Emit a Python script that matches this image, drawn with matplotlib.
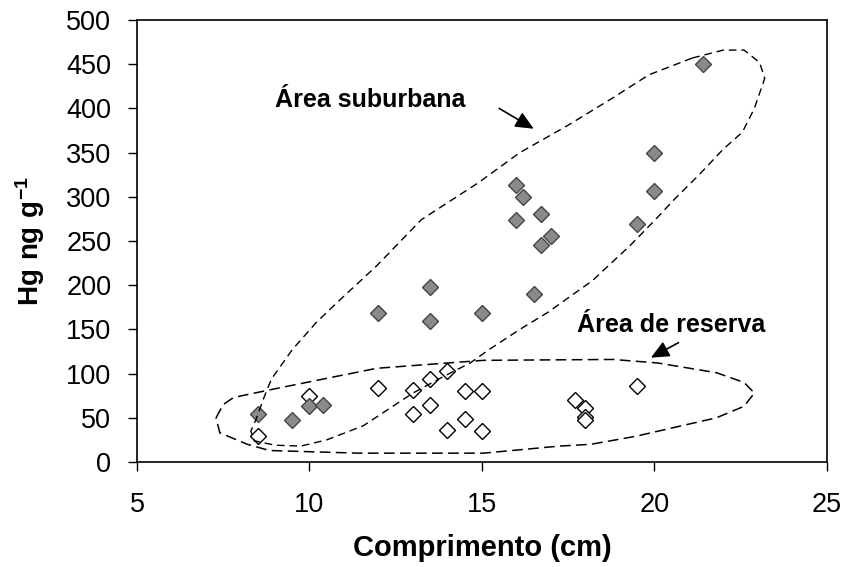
import matplotlib
matplotlib.use("Agg")
import matplotlib.pyplot as plt

plt.rcParams['font.family'] = ['Liberation Sans', 'DejaVu Sans']
plt.rcParams['mathtext.fontset'] = 'custom'
plt.rcParams['mathtext.bf'] = 'Liberation Sans:bold'
plt.rcParams['mathtext.rm'] = 'Liberation Sans'

# área suburbana (losangos cinza)
sub_comp = [21.4, 20, 20, 16, 16.2, 16, 16.7, 17, 16.7, 19.5, 13.5, 16.5, 12, 13.5, 15, 8.5, 9.5, 10, 10.4]
sub_hg = [450, 349, 307, 313, 300, 274, 280, 256, 245, 269, 198, 190, 169, 159, 169, 54, 47, 63, 64]

# área de reserva (losangos brancos)
res_comp = [8.5, 10, 12, 13, 13, 13.5, 13.5, 14, 14, 14.5, 14.5, 15, 15, 17.7, 18, 18, 18, 19.5]
res_hg = [29, 75, 84, 82, 54, 94, 64, 103, 36, 80, 49, 80, 35, 70, 61, 51, 47, 86]

x_ticks = [5, 10, 15, 20, 25]
y_ticks = list(range(0, 501, 50))

# contornos desenhados a mao (coordenadas dos dados)
sub_outline = [(21.1, 457), (22.0, 466), (22.6, 466), (23.05, 452), (23.2, 434),
               (22.9, 400), (22.55, 373), (22.0, 354), (21.3, 325), (20.6, 298),
               (20.0, 273), (19.3, 245), (18.2, 205), (16.9, 169), (16.1, 150),
               (15.2, 127), (14.66, 112), (13.9, 97), (13.0, 78), (11.56, 41),
               (10.5, 25), (9.75, 18), (9.0, 19), (8.4, 24), (8.3, 35), (8.45, 48),
               (8.7, 75), (8.9, 94), (9.5, 127), (10.2, 158), (10.9, 184),
               (11.95, 222), (13.24, 274), (14.9, 316), (16.1, 350), (17.5, 381),
               (18.8, 412), (19.84, 438), (21.1, 457)]
res_outline = [(7.29, 50), (7.5, 65), (7.8, 73), (8.9, 82), (10.8, 97), (11.95, 106),
               (14.0, 112), (15.05, 115), (18.8, 116), (20.1, 112), (21.8, 101),
               (22.6, 90), (22.9, 78), (22.6, 63), (21.8, 50), (19.45, 29),
               (18.16, 20), (17.25, 18), (15.05, 10), (11.4, 10), (8.84, 13),
               (8.2, 20), (7.4, 33), (7.29, 50)]

fig = plt.figure(figsize=(8.48, 5.67), dpi=100)
ax = fig.add_axes([0.1616, 0.1852, 0.8134, 0.7795])

ax.plot(res_comp, res_hg, linestyle='none', marker='D', markersize=8.2,
        markerfacecolor='white', markeredgecolor='black', markeredgewidth=1.0, zorder=3)
ax.plot(sub_comp, sub_hg, linestyle='none', marker='D', markersize=8.2,
        markerfacecolor='#8a8a8a', markeredgecolor='#454545', markeredgewidth=1.0, zorder=3)

for outline, dash, lw in ((sub_outline, (5.5, 3.5), 1.0), (res_outline, (7, 3.5), 1.1)):
    ox = [p[0] for p in outline]
    oy = [p[1] for p in outline]
    ax.plot(ox, oy, color='black', linestyle=(0, dash), linewidth=lw,
            zorder=4, clip_on=False)

ax.text(11.75, 410, 'Área suburbana', fontsize=18, fontweight='bold',
        ha='center', va='center')
ax.text(20.5, 155, 'Área de reserva', fontsize=18, fontweight='bold',
        ha='center', va='center')

arrow = dict(arrowstyle='-|>,head_length=0.55,head_width=0.25', color='black',
             lw=1.2, mutation_scale=20, shrinkA=0, shrinkB=0)
ax.annotate('', xy=(16.5, 377), xytext=(15.5, 400), arrowprops=arrow)
ax.annotate('', xy=(19.9, 118), xytext=(20.7, 135), arrowprops=arrow)

ax.set_xlim(5, 25)
ax.set_ylim(0, 500)
ax.set_xticks(x_ticks)
ax.set_yticks(y_ticks)
ax.tick_params(direction='out', length=6.5, width=1, labelsize=19.5)
ax.tick_params(axis='x', pad=15)
ax.tick_params(axis='y', pad=12)
for s in ax.spines.values():
    s.set_linewidth(1.2)

ax.set_xlabel('Comprimento (cm)', fontsize=21, fontweight='bold')
ax.xaxis.set_label_coords(0.5, -0.164)
ax.xaxis.label.set_va('top')
ax.set_ylabel(r'$\mathbf{Hg\ ng\ g^{-1}}$', fontsize=20)
ax.yaxis.set_label_coords(-0.155, 0.5)
ax.yaxis.label.set_va('center')

fig.savefig('out.png', dpi=100)
